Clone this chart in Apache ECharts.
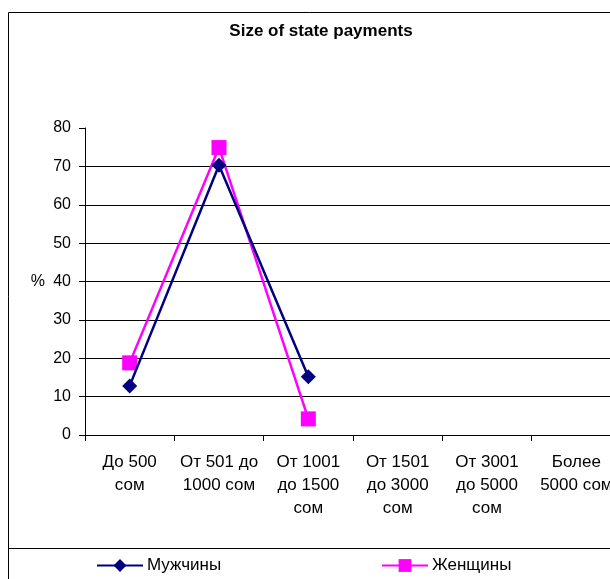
<!DOCTYPE html>
<html>
<head>
<meta charset="utf-8">
<script src="https://cdn.jsdelivr.net/npm/echarts@6/dist/echarts.min.js"></script>
<style>
  html, body { margin: 0; padding: 0; background: #fff; }
  #main { width: 610px; height: 579px; }
</style>
</head>
<body>
<div id="main"></div>
<script>
// categories and values
const categories = [
  "До 500\nсом",
  "От 501 до\n1000 сом",
  "От 1001\nдо 1500\nсом",
  "От 1501\nдо 3000\nсом",
  "От 3001\nдо 5000\nсом",
  "Более\n5000 сом",
];
const men = [12.8, 70.3, 15.2, null, null, null];
const women = [18.8, 74.9, 4.2, null, null, null];
const yTicks = [0, 10, 20, 30, 40, 50, 60, 70, 80];

const font = "'Liberation Sans', Arial, sans-serif";

var myChart = echarts.init(document.getElementById("main"));

var option = {
  animation: false,
  backgroundColor: "#fff",
  title: {
    text: "Size of state payments",
    left: 316,
    textAlign: "center",
    top: 18,
    textStyle: { fontFamily: font, fontSize: 17, fontWeight: "bold", color: "#000" },
  },
  graphic: [
    {
      type: "rect",
      shape: { x: 8.5, y: 12.5, width: 700, height: 700 },
      style: { fill: "none", stroke: "#000", lineWidth: 1 },
      z: 0,
    },
    {
      type: "line",
      shape: { x1: 8, y1: 548.5, x2: 610, y2: 548.5 },
      style: { stroke: "#000", lineWidth: 1 },
    },
  ],
  legend: [
    {
      data: ["Мужчины"],
      left: 96,
      top: 557,
      padding: 0,
      itemWidth: 46,
      itemHeight: 16,
      itemGap: 4,
      textStyle: { fontFamily: font, fontSize: 17, color: "#000", padding: [0, 0, 0, -1] },
    },
    {
      data: ["Женщины"],
      left: 381,
      top: 557,
      padding: 0,
      itemWidth: 46,
      itemHeight: 16,
      textStyle: { fontFamily: font, fontSize: 17, color: "#000", padding: [0, 0, 0, -1] },
    },
  ],
  grid: { left: 85, top: 128, width: 536, height: 307, outerBoundsMode: "none", containLabel: false },
  xAxis: {
    type: "category",
    data: categories,
    boundaryGap: true,
    axisLine: { lineStyle: { color: "#000", width: 1 } },
    axisTick: { show: true, length: 6, alignWithLabel: false, lineStyle: { color: "#000" } },
    axisLabel: {
      interval: 0,
      margin: 16,
      fontFamily: font,
      fontSize: 17,
      lineHeight: 23,
      color: "#000",
    },
  },
  yAxis: {
    type: "value",
    min: yTicks[0],
    max: yTicks[yTicks.length - 1],
    interval: 10,
    name: "%",
    nameLocation: "middle",
    nameRotate: 0,
    nameGap: 40,
    nameTextStyle: { fontFamily: font, fontSize: 16, color: "#000" },
    axisLine: { show: true, lineStyle: { color: "#000", width: 1 } },
    axisTick: { show: true, length: 6, lineStyle: { color: "#000" } },
    axisLabel: { fontFamily: font, fontSize: 16, color: "#000", margin: 14 },
    splitLine: {
      show: true,
      lineStyle: {
        color: ["#000", "#000", "#000", "#000", "#000", "#000", "#000", "#000", "transparent"],
        width: 1,
      },
    },
  },
  series: [
    {
      name: "Мужчины",
      type: "line",
      data: men,
      color: "#000080",
      symbol: "diamond",
      symbolSize: 15,
      lineStyle: { width: 2.5, color: "#000080" },
      itemStyle: { color: "#000080" },
      z: 3,
    },
    {
      name: "Женщины",
      type: "line",
      data: women,
      color: "#ff00ff",
      symbol: "rect",
      symbolSize: 15,
      lineStyle: { width: 2.5, color: "#ff00ff" },
      itemStyle: { color: "#ff00ff" },
      z: 2,
    },
  ],
};

myChart.setOption(option);
</script>
</body>
</html>
